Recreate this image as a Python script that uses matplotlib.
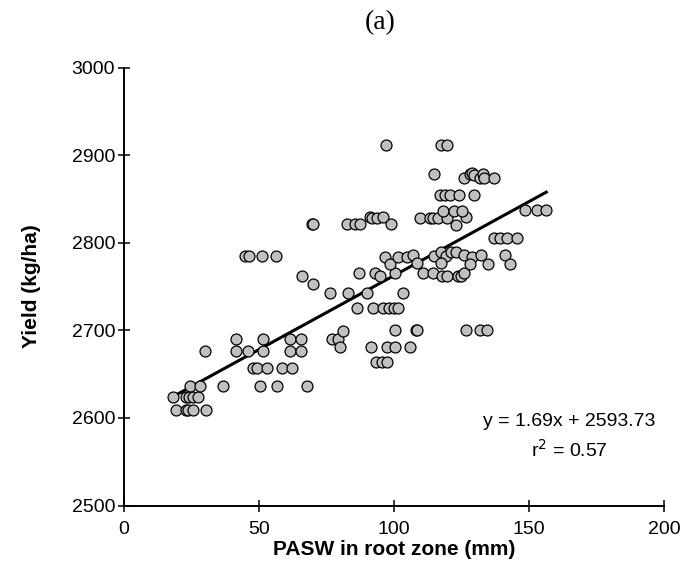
import numpy as np
import matplotlib
matplotlib.use("Agg")
import matplotlib.pyplot as plt

plt.rcParams['font.family'] = ['Liberation Sans', 'DejaVu Sans']

# PASW (mm) and yield (kg/ha)
pasw = [18.0, 23.0, 24.2, 25.7, 27.5,
        19.1, 23.0, 23.8, 25.7, 30.3,
        24.4, 28.1, 36.6, 50.4, 56.6, 67.7,
        47.9, 49.1, 53.1, 58.4, 62.3,
        30.0, 41.5, 46.0, 51.3, 61.5, 65.5,
        41.5, 51.3, 61.5, 65.5,
        44.8, 46.3, 51.1, 56.3,
        65.8, 69.9, 69.5, 70.1,
        76.9, 79.1, 81.2, 80.0,
        76.3, 82.9, 89.9, 103.1,
        86.2, 92.3, 96.0, 97.9, 99.8, 101.6,
        91.4, 97.5, 100.4, 105.9,
        93.3, 95.4, 97.5,
        100.4, 108.0, 108.4,
        86.8, 93.0, 94.6, 100.4,
        110.6, 114.3, 117.7, 119.5, 123.8, 124.7, 125.9,
        96.7, 98.3, 101.6, 104.9, 107.1, 108.4,
        114.6, 117.3, 119.3, 121.0, 123.0, 117.4,
        125.7, 128.8, 132.1, 141.1,
        128.1, 134.9, 143.0,
        136.8, 139.3, 141.7, 145.4,
        148.5, 152.8, 156.3,
        82.7, 85.6, 87.2, 90.9, 91.7, 93.8, 96.0, 98.8,
        109.4, 113.1, 114.3, 116.4, 119.5, 126.7,
        118.0, 122.3, 125.1, 123.0,
        117.0, 118.9, 120.7, 124.0, 129.4,
        114.6,
        126.0, 127.9, 128.8, 129.4, 131.6, 132.9, 133.1, 137.0,
        97.0, 117.4, 119.6,
        126.7, 131.9, 134.3]
yld = [2624, 2624, 2624, 2624, 2624,
       2609, 2609, 2609, 2609, 2609,
       2636, 2636, 2636, 2636, 2636, 2636,
       2657, 2657, 2657, 2657, 2657,
       2676, 2676, 2676, 2676, 2676, 2676,
       2690, 2690, 2690, 2690,
       2785, 2785, 2785, 2785,
       2762, 2753, 2822, 2822,
       2690, 2690, 2699, 2681,
       2743, 2743, 2743, 2743,
       2726, 2726, 2726, 2726, 2726, 2726,
       2681, 2681, 2681, 2681,
       2664, 2664, 2664,
       2700, 2700, 2700,
       2765, 2766, 2762, 2765,
       2765, 2765, 2762, 2762, 2762, 2762, 2765,
       2784, 2776, 2784, 2784, 2786, 2777,
       2785, 2790, 2785, 2790, 2790, 2777,
       2786, 2784, 2786, 2786,
       2776, 2776, 2776,
       2805, 2805, 2805, 2805,
       2837, 2837, 2837,
       2822, 2822, 2822, 2830, 2828, 2828, 2830, 2822,
       2828, 2828, 2828, 2828, 2828, 2829,
       2836, 2836, 2836, 2820,
       2855, 2855, 2855, 2855, 2855,
       2879,
       2874, 2879, 2880, 2877, 2874, 2879, 2874, 2874,
       2912, 2912, 2912,
       2701, 2701, 2701]

# regression reported on the chart
slope = 1.69
intercept = 2593.73
r2 = 0.57

xticks = [0, 50, 100, 150, 200]
yticks = [2500, 2600, 2700, 2800, 2900, 3000]

fig = plt.figure(figsize=(6.86, 5.83), dpi=100)
ax = fig.add_axes([0.1808, 0.1329, 0.7876, 0.751])

ax.scatter(pasw, yld, s=62, c='#c0c0c0', edgecolors='black', linewidths=0.9, zorder=3)

xl = np.array([min(pasw), max(pasw)])
ax.plot(xl, slope * xl + intercept, color='black', lw=2.2, zorder=2)

ax.set_xlim(0, 200)
ax.set_ylim(2500, 3000)
ax.set_xticks(xticks)
ax.set_yticks(yticks)
ax.spines['top'].set_visible(False)
ax.spines['right'].set_visible(False)
for s in ['left', 'bottom']:
    ax.spines[s].set_linewidth(1.4)
ax.tick_params(direction='inout', length=9, width=1.1, labelsize=14, pad=2)
ax.tick_params(axis='x', pad=7)

ax.set_xlabel('PASW in root zone (mm)', fontsize=15, fontweight='bold', labelpad=1)
ax.set_ylabel('Yield (kg/ha)', fontsize=15, fontweight='bold', labelpad=22)

ax.text(0.824, 0.193, 'y = %.2fx + %.2f' % (slope, intercept), transform=ax.transAxes,
        ha='center', va='center', fontsize=14)
ax.text(0.824, 0.127, 'r$^2$ = %.2f' % r2, transform=ax.transAxes,
        ha='center', va='center', fontsize=14)

fig.text(0.554, 0.962, '(a)', ha='center', va='center', fontsize=20,
         family=['Liberation Serif', 'DejaVu Serif'])

plt.savefig('out.png', dpi=100)
plt.close()
